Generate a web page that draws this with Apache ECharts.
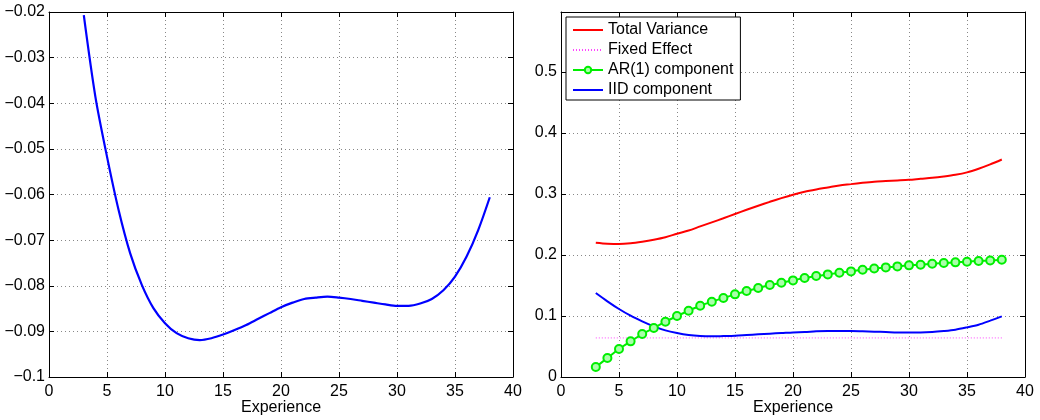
<!DOCTYPE html>
<html>
<head>
<meta charset="utf-8">
<script src="https://cdn.jsdelivr.net/npm/echarts@6/dist/echarts.min.js"></script>
<style>html,body{margin:0;padding:0;background:#fff;}#c{width:1040px;height:420px;}</style>
</head>
<body>
<div id="c"></div>
<script>
const experience = [3,4,5,6,7,8,9,10,11,12,13,14,15,16,17,18,19,20,21,22,23,24,25,26,27,28,29,30,31,32,33,34,35,36,37,38];
const leftCurve = [-0.0207,-0.0386,-0.0517,-0.0634,-0.0729,-0.0798,-0.0849,-0.0882,-0.0904,-0.0915,-0.0919,-0.0915,-0.0907,-0.0897,-0.0886,-0.0873,-0.0860,-0.0847,-0.0837,-0.0829,-0.0826,-0.0824,-0.0826,-0.0829,-0.0833,-0.0837,-0.0841,-0.0844,-0.0844,-0.0839,-0.0829,-0.0810,-0.0780,-0.0736,-0.0678,-0.0606];
const totalVariance = [0.220,0.2184,0.2178,0.219,0.2216,0.2249,0.229,0.2347,0.240,0.2467,0.2533,0.260,0.267,0.274,0.2806,0.287,0.293,0.2986,0.3035,0.3073,0.3106,0.3139,0.316,0.3182,0.320,0.321,0.322,0.3231,0.3248,0.3264,0.3286,0.3313,0.3352,0.3412,0.3483,0.3564];
const fixedEffect = [0.064,0.064,0.064,0.064,0.064,0.064,0.064,0.064,0.064,0.064,0.064,0.064,0.064,0.064,0.064,0.064,0.064,0.064,0.064,0.064,0.064,0.064,0.064,0.064,0.064,0.064,0.064,0.064,0.064,0.064,0.064,0.064,0.064,0.064,0.064,0.064];
const ar1Component = [0.0164,0.0311,0.0459,0.0584,0.0704,0.0802,0.0906,0.0999,0.1086,0.1168,0.1234,0.1294,0.1354,0.1408,0.1457,0.1507,0.1545,0.1583,0.1621,0.1654,0.1681,0.1708,0.1730,0.1758,0.1779,0.1796,0.1812,0.1829,0.1840,0.1856,0.1867,0.1878,0.1889,0.1900,0.1910,0.1921];
const iidComponent = [0.1376,0.124,0.1114,0.1004,0.0912,0.083,0.0764,0.072,0.0688,0.0671,0.0666,0.0671,0.0677,0.0688,0.0699,0.0710,0.072,0.0731,0.0737,0.0748,0.0753,0.0753,0.0753,0.0748,0.0742,0.0737,0.0731,0.0731,0.0731,0.0737,0.0753,0.0775,0.0813,0.0857,0.0923,0.0993];
const seriesNames = ['Total Variance','Fixed Effect','AR(1) component','IID component'];
const xAxisName = 'Experience';

const FONT = 'Liberation Sans';
const fmt = v => String(+(+v).toFixed(4)).replace('-', '\u2212');
const pairs = arr => arr.map((v, i) => [experience[i], v]);
function xAxes(gi) {
  const base = {type:'value', gridIndex:gi, min:0, max:40, interval:5,
    axisLine:{show:true, onZero:false, lineStyle:{color:'#000', width:1}},
    axisTick:{show:true, inside:true, length:5, lineStyle:{color:'#000'}}};
  return [
    Object.assign({}, base, {position:'bottom', name:xAxisName, nameLocation:'middle', nameGap:23,
      nameMoveOverlap:false,
      nameTextStyle:{fontFamily:FONT, fontSize:16, color:'#000'},
      axisLabel:{fontFamily:FONT, fontSize:16, color:'#000', margin:7},
      splitLine:{show:true, lineStyle:{color:'#888', type:[1,3], width:1}}}),
    Object.assign({}, base, {position:'top', axisLabel:{show:false}, splitLine:{show:false}})
  ];
}
function yAxes(gi, min, max, interval, hideMax) {
  const base = {type:'value', gridIndex:gi, min:min, max:max, interval:interval,
    axisLine:{show:true, onZero:false, lineStyle:{color:'#000', width:1}},
    axisTick:{show:true, inside:true, length:5, lineStyle:{color:'#000'}}};
  return [
    Object.assign({}, base, {position:'left',
      axisLabel:{fontFamily:FONT, fontSize:16, color:'#000', margin:4, formatter:fmt, showMaxLabel: !hideMax},
      splitLine:{show:true, lineStyle:{color:'#888', type:[1,3], width:1}}}),
    Object.assign({}, base, {position:'right', axisLabel:{show:false}, splitLine:{show:false}})
  ];
}

const chart = echarts.init(document.getElementById('c'), null, {renderer:'canvas'});
chart.setOption({
  animation:false,
  backgroundColor:'#fff',
  grid:[
    {left:49, right:527, top:12, bottom:43, containLabel:false, outerBoundsMode:'none'},
    {left:561, right:15, top:12, bottom:43, containLabel:false, outerBoundsMode:'none'}
  ],
  xAxis:[...xAxes(0), ...xAxes(1)],
  yAxis:[...yAxes(0, -0.1, -0.02, 0.01, false), ...yAxes(1, 0, 0.598, 0.1, true)],
  legend:{
    data:[
      {name:seriesNames[0], itemStyle:{opacity:0}},
      {name:seriesNames[1], itemStyle:{opacity:0}},
      {name:seriesNames[2]},
      {name:seriesNames[3], itemStyle:{opacity:0}}
    ],
    orient:'vertical', left:566, top:17,
    itemWidth:30, itemHeight:8, itemGap:4,
    padding:[5,7,2,6],
    backgroundColor:'#fff', borderColor:'#000', borderWidth:1,
    textStyle:{fontFamily:FONT, fontSize:16, color:'#000'},
    selectedMode:false
  },
  series:[
    {type:'line', name:'left', xAxisIndex:0, yAxisIndex:0, data:pairs(leftCurve), smooth:0.3,
      symbol:'none', lineStyle:{color:'#0000ff', width:2.2}},
    {type:'line', name:seriesNames[0], xAxisIndex:2, yAxisIndex:2, data:pairs(totalVariance), smooth:0.3,
      symbol:'none', itemStyle:{color:'#ff0000'}, lineStyle:{color:'#ff0000', width:2}},
    {type:'line', name:seriesNames[1], xAxisIndex:2, yAxisIndex:2, data:pairs(fixedEffect),
      symbol:'none', itemStyle:{color:'#ff44ff'}, lineStyle:{color:'#ff44ff', width:1, type:[1,2]}},
    {type:'line', name:seriesNames[2], xAxisIndex:2, yAxisIndex:2, data:pairs(ar1Component), smooth:0.3,
      symbol:'circle', symbolSize:8,
      itemStyle:{color:'rgba(170,255,170,1)', borderColor:'#00ee00', borderWidth:2},
      lineStyle:{color:'#00ee00', width:2}},
    {type:'line', name:seriesNames[3], xAxisIndex:2, yAxisIndex:2, data:pairs(iidComponent), smooth:0.3,
      symbol:'none', itemStyle:{color:'#0000ff'}, lineStyle:{color:'#0000ff', width:2}}
  ]
});
</script>
</body>
</html>
